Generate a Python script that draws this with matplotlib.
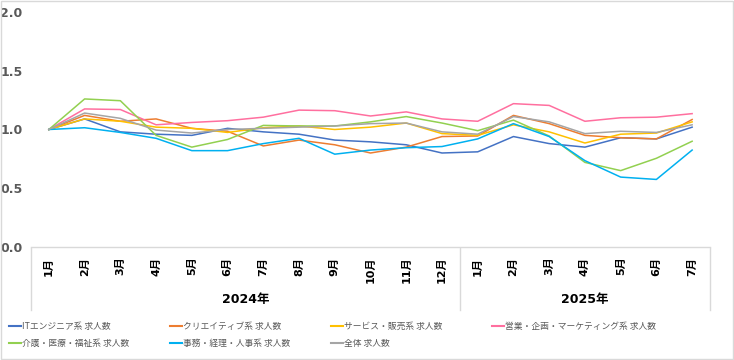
import matplotlib
matplotlib.use('Agg')
import matplotlib.pyplot as plt
from matplotlib.lines import Line2D
from matplotlib.patches import Rectangle

plt.rcParams['font.family'] = ['DejaVu Sans', 'Noto Sans CJK JP']

months = ['1月', '2月', '3月', '4月', '5月', '6月', '7月', '8月', '9月', '10月', '11月', '12月',
          '1月', '2月', '3月', '4月', '5月', '6月', '7月']
years = ['2024年', '2025年']
months_per_year = [12, 7]

names = ['ITエンジニア系 求人数', 'クリエイティブ系 求人数', 'サービス・販売系 求人数',
         '営業・企画・マーケティング系 求人数', '介護・医療・福祉系 求人数',
         '事務・経理・人事系 求人数', '全体 求人数']

it_eng = [1.00, 1.09, 0.98, 0.96, 0.95, 1.01, 0.98, 0.96, 0.91, 0.895, 0.87, 0.80,
          0.81, 0.94, 0.88, 0.85, 0.93, 0.92, 1.02]
creative = [1.00, 1.12, 1.07, 1.09, 1.01, 0.985, 0.86, 0.91, 0.87, 0.80, 0.85, 0.94,
            0.945, 1.12, 1.05, 0.95, 0.93, 0.92, 1.085]
service = [1.00, 1.09, 1.07, 1.02, 1.01, 0.975, 1.015, 1.03, 1.00, 1.02, 1.055, 0.965,
           0.95, 1.04, 0.98, 0.885, 0.96, 0.97, 1.065]
sales = [1.00, 1.175, 1.17, 1.04, 1.06, 1.075, 1.105, 1.165, 1.16, 1.115, 1.15, 1.09,
         1.07, 1.22, 1.205, 1.07, 1.10, 1.105, 1.135]
care = [1.00, 1.26, 1.245, 0.95, 0.85, 0.915, 1.035, 1.03, 1.03, 1.065, 1.11, 1.055,
        0.99, 1.08, 0.945, 0.72, 0.65, 0.755, 0.90]
office = [1.00, 1.015, 0.975, 0.925, 0.82, 0.82, 0.88, 0.925, 0.79, 0.825, 0.845, 0.855,
          0.92, 1.05, 0.94, 0.735, 0.595, 0.575, 0.825]
total = [1.00, 1.14, 1.095, 0.995, 0.97, 1.00, 1.01, 1.02, 1.03, 1.05, 1.055, 0.98,
         0.96, 1.11, 1.065, 0.965, 0.985, 0.975, 1.04]

series = [it_eng, creative, service, sales, care, office, total]
colors = ['#4472C4', '#ED7D31', '#FFC000', '#FF6F9F', '#92D050', '#00B0F0', '#A5A5A5']

W, H = 734, 360
fig = plt.figure(figsize=(W / 100, H / 100), dpi=100)

def fx(px):
    return px / W

def fy(py):
    return 1 - py / H

ax = fig.add_axes([fx(31), fy(247), fx(710) - fx(31), fy(12) - fy(247)])

x = list(range(len(months)))
for vals, c, n in zip(series, colors, names):
    ax.plot(x, vals, color=c, linewidth=1.1, label=n)

ax.set_xlim(-0.5, len(months) - 0.5)
ax.set_ylim(0, 2.0)
ax.set_yticks([0, 0.5, 1.0, 1.5, 2.0])
ax.set_yticklabels(['0.0', '0.5', '1.0', '1.5', '2.0'], fontsize=9, fontweight='bold', color='#595959')
ax.set_xticks(x)
ax.set_xticklabels(months, rotation=90, fontsize=8, fontweight='bold', color='black',
                   family=['DejaVu Sans', 'Noto Sans CJK JP'])
for lab in ax.get_xticklabels():
    lab.set_verticalalignment('top')
ax.tick_params(axis='both', length=0)
ax.tick_params(axis='x', pad=7)
ax.tick_params(axis='y', pad=6)
for s in ['top', 'left', 'right']:
    ax.spines[s].set_visible(False)
ax.spines['bottom'].set_color('#D9D9D9')
ax.spines['bottom'].set_linewidth(1)

# category group boxes
sep_col = '#D9D9D9'
edges = [31, 460, 710]
for ex in edges:
    fig.add_artist(Line2D([fx(ex), fx(ex)], [fy(248), fy(310)], color=sep_col, linewidth=1))
for i, yr in enumerate(years):
    cx = (edges[i] + edges[i + 1]) / 2
    fig.text(fx(cx), fy(299), yr, ha='center', va='center', fontsize=9, fontweight='bold',
             color='black', family=['DejaVu Sans', 'Noto Sans CJK JP'])

# legend
col_x = [9, 170, 331, 492]
row_y = [326, 343]
for i, (n, c) in enumerate(zip(names, colors)):
    cxp = col_x[i % 4]
    ryp = row_y[i // 4]
    fig.add_artist(Line2D([fx(cxp), fx(cxp + 12)], [fy(ryp), fy(ryp)], color=c, linewidth=1.5))
    fig.text(fx(cxp + 13), fy(ryp), n, ha='left', va='center', fontsize=6.3, color='#595959',
             family=['Noto Sans CJK JP', 'DejaVu Sans'])

fig.add_artist(Rectangle((0.001, 0.002), 0.997, 0.995, transform=fig.transFigure,
                         fill=False, edgecolor='#D9D9D9', linewidth=1))

fig.savefig('out.png', dpi=100)
